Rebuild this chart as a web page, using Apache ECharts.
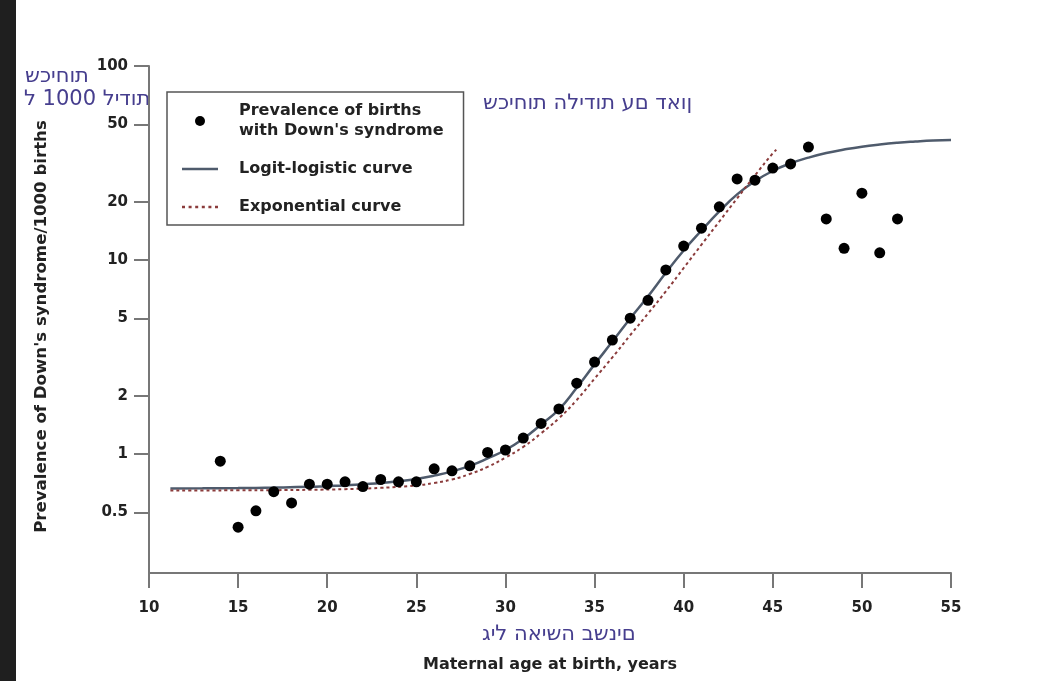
<!DOCTYPE html>
<html>
<head>
<meta charset="utf-8">
<script src="https://cdn.jsdelivr.net/npm/echarts@6/dist/echarts.min.js"></script>
<style>
html,body{margin:0;padding:0;background:#fff;}
#chart{width:1041px;height:681px;}
</style>
</head>
<body>
<div id="chart"></div>
<script>
// Observed prevalence (per 1000 births) by maternal age
const ages = [14,15,16,17,18,19,20,21,22,23,24,25,26,27,28,29,30,31,32,33,34,35,36,37,38,39,40,41,42,43,44,45,46,47,48,49,50,51,52];
const prevalence = [0.92,0.42,0.51,0.64,0.56,0.70,0.70,0.72,0.68,0.74,0.72,0.72,0.84,0.82,0.87,1.02,1.05,1.21,1.44,1.71,2.32,2.98,3.87,5.02,6.2,8.9,11.8,14.6,18.8,26.2,25.8,29.8,31.3,38.2,16.3,11.5,22.1,10.9,16.3];

// Logit-logistic fitted curve
const logitAges = [11.2,13,15,17,19,20,21,22,23,24,25,26,27,28,29,30,31,32,33,34,35,36,37,38,39,40,41,42,43,44,45,46,47,48,49,50,51,52,53,54,55];
const logitValues = [0.665,0.666,0.668,0.672,0.678,0.684,0.69,0.70,0.71,0.725,0.745,0.775,0.815,0.87,0.95,1.05,1.2,1.42,1.7,2.2,2.9,3.8,5.0,6.5,8.6,11.2,14.2,17.8,21.8,25.5,28.8,31.5,33.7,35.6,37.1,38.4,39.4,40.2,40.8,41.3,41.6];

// Exponential fitted curve
const expAges = [11.2,13,15,17,19,21,23,25,26,27,28,29,30,31,32,33,34,35,36,37,38,39,40,41,42,43,44,45,45.2];
const expValues = [0.65,0.65,0.651,0.652,0.655,0.66,0.67,0.69,0.71,0.74,0.79,0.86,0.96,1.09,1.28,1.53,1.9,2.45,3.15,4.1,5.3,6.9,9.1,12.0,15.8,20.8,27.3,35.5,37.0];

const yTicks = [0.5,1,2,5,10,20,50,100];
const xTicks = [10,15,20,25,30,35,40,45,50,55];

const nameScatter = "Prevalence of births\nwith Down's syndrome";
const nameLogit = "Logit-logistic curve";
const nameExp = "Exponential curve";

const heb1 = "שכיחות";
const heb2 = "ל 1000 לידות";
const hebTitle = "שכיחות הלידות עם דאון";
const hebX = "גיל האישה בשנים";

// the reference shows these Hebrew strings drawn left-to-right
const LRO = "\u202D", PDF = "\u202C";
const ltr = s => LRO + s + PDF;

const font = "'DejaVu Sans', Verdana, sans-serif";
const axisColor = '#777777';
const hebColor = '#463e8e';
const hebFont = "21px 'DejaVu Sans'";

const chart = echarts.init(document.getElementById('chart'), null, {renderer:'canvas'});
chart.setOption({
  backgroundColor: '#ffffff',
  animation: false,
  grid: {left:149, right:90, top:66, bottom:108, containLabel:false},
  legend: {
    orient: 'vertical',
    left: 167, top: 92,
    padding: [9, 20, 8, 15],
    itemGap: 18,
    itemWidth: 36,
    itemHeight: 10,
    borderColor: '#555555',
    borderWidth: 1.5,
    backgroundColor: '#ffffff',
    textStyle: {fontFamily: font, fontWeight: 'bold', fontSize: 16, color: '#222222', lineHeight: 20, padding:[0,0,0,16]},
    data: [
      {name: nameScatter},
      {name: nameLogit, icon: 'path://M0,0H36V2.5H0Z'},
      {name: nameExp, icon: 'path://M0,0H3V2.5H0Z M6.6,0H9.6V2.5H6.6Z M13.2,0H16.2V2.5H13.2Z M19.8,0H22.8V2.5H19.8Z M26.4,0H29.4V2.5H26.4Z M33,0H36V2.5H33Z'}
    ]
  },
  xAxis: {
    type: 'value', min: 10, max: 55, interval: 5,
    name: 'Maternal age at birth, years',
    nameLocation: 'middle', nameGap: 84,
    nameTextStyle: {fontFamily: font, fontWeight: 'bold', fontSize: 16, color: '#222222'},
    axisLine: {show: true, lineStyle: {color: axisColor, width: 2}},
    axisTick: {show: true, length: 15, lineStyle: {color: axisColor, width: 2}},
    axisLabel: {fontFamily: font, fontWeight: 'bold', fontSize: 15, color: '#222222', margin: 28},
    splitLine: {show: false}
  },
  yAxis: {
    type: 'log', logBase: 10, min: 0.244, max: 100,
    name: "Prevalence of Down's syndrome/1000 births",
    nameLocation: 'middle', nameGap: 99, nameRotate: 90,
    nameTextStyle: {fontFamily: font, fontWeight: 'bold', fontSize: 16.6, color: '#222222', padding: [0, 14, 0, 0]},
    axisLine: {show: true, lineStyle: {color: axisColor, width: 2}},
    axisTick: {show: true, length: 15, customValues: yTicks, lineStyle: {color: axisColor, width: 2}},
    axisLabel: {fontFamily: font, fontWeight: 'bold', fontSize: 15, color: '#222222', margin: 21, customValues: yTicks},
    splitLine: {show: false},
    minorTick: {show: false}
  },
  graphic: [
    {type:'rect', left:0, top:0, shape:{width:16, height:681}, style:{fill:'#1f1f1f'}, silent:true},
    {type:'text', left:25, top:66, style:{text:ltr(heb1), font:hebFont, fill:hebColor}},
    {type:'text', left:24, top:89, style:{text:ltr(heb2), font:hebFont, fill:hebColor}},
    {type:'text', left:483, top:93, style:{text:ltr(hebTitle), font:hebFont, fill:hebColor}},
    {type:'text', left:482, top:624, style:{text:ltr(hebX), font:hebFont, fill:hebColor}}
  ],
  series: [
    {
      name: nameLogit, type: 'line', smooth: true, symbol: 'none', z: 2,
      lineStyle: {color: '#4f5b6c', width: 2.5},
      itemStyle: {color: '#4f5b6c'},
      data: logitAges.map((a, i) => [a, logitValues[i]])
    },
    {
      name: nameExp, type: 'line', smooth: true, symbol: 'none', z: 2,
      lineStyle: {color: '#8b3c3c', width: 2, type: [3, 3]},
      itemStyle: {color: '#8b3c3c'},
      data: expAges.map((a, i) => [a, expValues[i]])
    },
    {
      name: nameScatter, type: 'scatter', symbol: 'circle', symbolSize: 11, z: 5,
      itemStyle: {color: '#000000', opacity: 1},
      data: ages.map((a, i) => [a, prevalence[i]])
    }
  ]
});
</script>
</body>
</html>
